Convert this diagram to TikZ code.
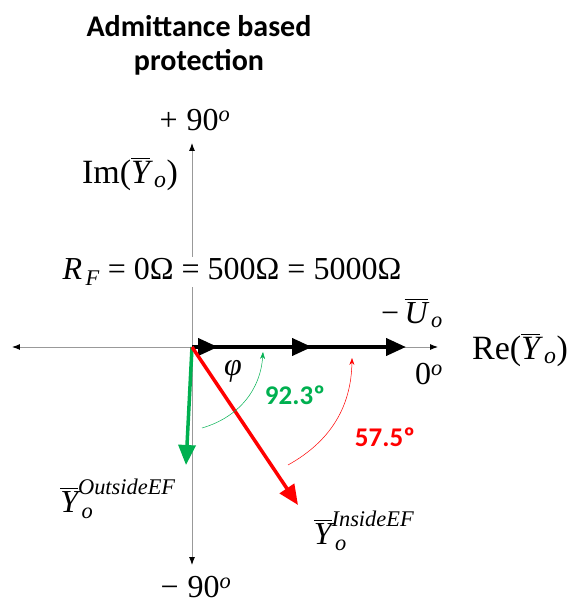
\documentclass[tikz,border=0pt]{standalone}
\usepackage{amsmath}
\usepackage{fontspec}
\setmainfont{Liberation Serif}
\newfontfamily\titlefont{Carlito}
\usetikzlibrary{arrows.meta}
\definecolor{vgreen}{RGB}{0,176,80}
\definecolor{vred}{RGB}{255,0,0}
\tikzstyle{axis}=[draw=gray!80, line width=0.9pt, -{Latex[length=8pt,width=6pt,color=black]}]
\tikzstyle{vec}=[line width=4pt, -{Triangle[length=20pt,width=17pt]}]
\tikzstyle{swing}=[line width=0.5pt, -{Stealth[length=7pt,width=5pt]}]
\tikzstyle{lbl}=[inner sep=1pt, font=\fontsize{32}{36}\selectfont]
\tikzstyle{deg}=[inner sep=1pt, font=\titlefont\bfseries\fontsize{27}{30}\selectfont]
\newcommand{\Ybar}{\overline{\text{\itshape Y}}}
\newcommand{\Ubar}{\overline{\text{\itshape U}}}
\newcommand{\sbit}[1]{_{\,\text{\itshape #1}}}

\begin{document}
\begin{tikzpicture}[x=1pt,y=1pt]
\useasboundingbox (-192,-254) rectangle (380,347);
% axes
\coordinate (O) at (0,0);
\coordinate (W) at (-180,0);
\coordinate (E) at (246,0);
\coordinate (N) at (0,204);
\coordinate (S) at (0,-218);
\draw[axis, {Latex[length=8pt,width=6pt,color=black]}-{Latex[length=8pt,width=6pt,color=black]}] (W) -- (E);
\draw[axis] (O) -- (N);
\draw[axis] (O) -- (S);
\node[font=\titlefont\bfseries\fontsize{30}{34}\selectfont, align=center] (title) at (7,302) {Admittance based\\protection};
\node[lbl] (up) at (3,227) {+\;90\textsuperscript{\itshape o}};
\node[lbl] (down) at (4,-240) {−\;90\textsuperscript{\itshape o}};
\node[lbl, font=\fontsize{34}{38}\selectfont] (im) at (-62,173) {Im($\Ybar\sbit{o}$)};
\node[lbl, font=\fontsize{34}{38}\selectfont] (re) at (328,-3) {Re($\Ybar\sbit{o}$)};
\node[lbl] (zero) at (237,-27) {0\textsuperscript{\itshape o}};
\node[lbl, fill=white] (rf) at (40,75) {$\text{\itshape R}\sbit{F}$ = 0Ω = 500Ω = 5000Ω};
% voltage phasors
\foreach \n/\x in {3/214,2/120,1/26}
	{\coordinate (u\n) at (\x,0);
	\draw[vec] (O) -- (u\n);}
\node[lbl] (uo) at (220,34) {−\,$\Ubar\sbit{o}$};
% admittance phasors
\coordinate (yout) at (-6,-118);
\coordinate (yin) at (106,-158);
\draw[vec, vgreen, line width=3.5pt] (O) -- (yout);
\draw[vec, vred, line width=3.5pt] (O) -- (yin);
\node[lbl] (lout) at (-74,-152) {$\Ybar\sbit{o}^{\text{\itshape OutsideEF}}$};
\node[lbl] (lin) at (172,-184) {$\Ybar\sbit{o}^{\text{\itshape InsideEF}}$};
\node[lbl] (phi) at (41,-24) {\itshape φ};
% angles
\coordinate (g1) at (10,-81);
\coordinate (g2) at (71,-5);
\coordinate (r1) at (96,-118);
\coordinate (r2) at (160,-11);
\draw[swing, vgreen] (g1) to[bend right=35] (g2);
\draw[swing, vred] (r1) to[bend right=30] (r2);
\node[deg, text=vgreen] (ag) at (103,-48) {92.3º};
\node[deg, text=vred] (ar) at (193,-90) {57.5º};
\end{tikzpicture}
\end{document}
